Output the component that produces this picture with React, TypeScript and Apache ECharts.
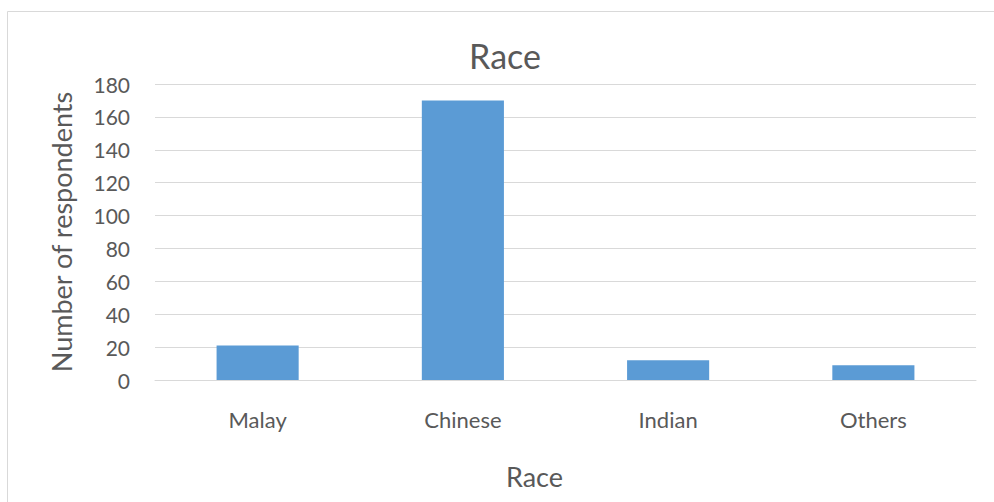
import React, { useEffect, useRef } from "react";
import * as echarts from "echarts";

const categories = ["Malay", "Chinese", "Indian", "Others"];
const values = [21, 170, 12, 9];
const chartTitle = "Race";
const xAxisTitle = "Race";
const yAxisTitle = "Number of respondents";

const FONT = "Lato, 'Open Sans', sans-serif";
const TXT = "#595959";

export default function App() {
  const ref = useRef<HTMLDivElement>(null);
  useEffect(() => {
    if (!ref.current) return;
    const chart = echarts.init(ref.current, null, { renderer: "svg" });
    chart.setOption({
      animation: false,
      backgroundColor: "#ffffff",
      textStyle: { fontFamily: FONT },
      title: {
        text: chartTitle,
        left: 500,
        top: 33,
        textAlign: "center",
        textStyle: { fontFamily: FONT, fontSize: 34, fontWeight: "normal", color: TXT },
      },
      graphic: [
        {
          type: "rect",
          shape: { x: 7.5, y: 11.5, width: 1100, height: 600 },
          style: { fill: "none", stroke: "#d9d9d9", lineWidth: 1 },
          silent: true,
        },
      ],
      grid: { left: 155, right: 18, top: 84, bottom: 122 },
      xAxis: {
        type: "category",
        data: categories,
        name: xAxisTitle,
        nameLocation: "middle",
        nameGap: 83,
        nameTextStyle: { fontFamily: FONT, fontSize: 27, color: TXT, padding: [0, 62, 0, 0] },
        axisLine: { show: true, lineStyle: { color: "#d9d9d9", width: 1 } },
        axisTick: { show: false },
        axisLabel: { fontFamily: FONT, fontSize: 22, color: TXT, margin: 28 },
      },
      yAxis: {
        type: "value",
        min: 0,
        max: 180,
        interval: 20,
        name: yAxisTitle,
        nameLocation: "middle",
        nameGap: 80,
        nameRotate: 90,
        nameTextStyle: { fontFamily: FONT, fontSize: 27, color: TXT },
        axisLine: { show: false },
        axisTick: { show: false },
        axisLabel: { fontFamily: FONT, fontSize: 21, color: TXT, margin: 25 },
        splitLine: { lineStyle: { color: "#d9d9d9", width: 1 } },
      },
      series: [
        {
          type: "bar",
          data: values,
          barCategoryGap: "60%",
          itemStyle: { color: "#5b9bd5" },
        },
      ],
    });
    return () => chart.dispose();
  }, []);
  return (
    <div
      ref={ref}
      style={{ position: "fixed", left: 0, top: 0, width: 994, height: 502 }}
    />
  );
}
